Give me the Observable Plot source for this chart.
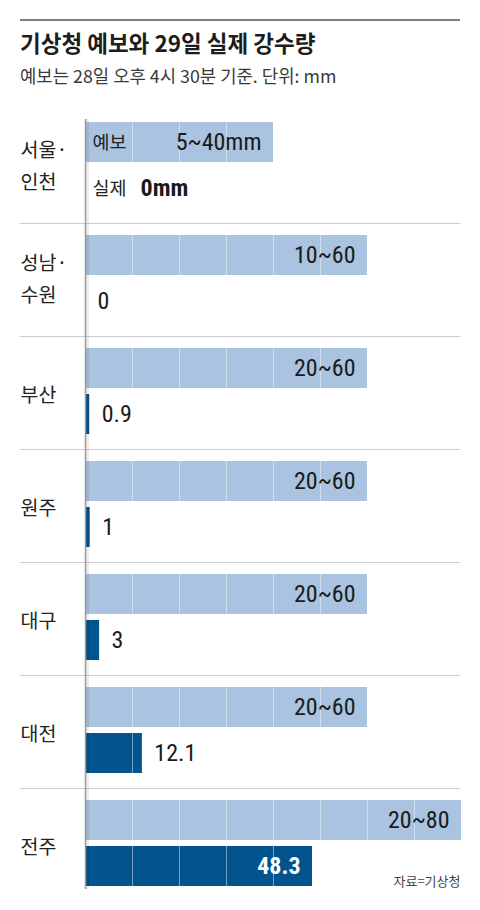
<!DOCTYPE html>
<html><head><meta charset="utf-8">
<script src="https://cdn.jsdelivr.net/npm/d3@7"></script>
<script src="https://cdn.jsdelivr.net/npm/@observablehq/plot@0.6"></script>
<style>
body{margin:0;background:#fff;width:480px;height:910px;position:relative;overflow:hidden;font-family:"Noto Sans CJK KR",sans-serif;}
#rule{position:absolute;left:20px;top:19px;width:440px;height:2px;background:#808080;}
#title{position:absolute;left:20px;top:29px;font-size:22.5px;font-weight:700;line-height:26px;color:#1d1d1d;white-space:nowrap}
#subtitle{position:absolute;left:20px;top:65px;font-size:17.8px;line-height:20px;color:#3a3a3a;white-space:nowrap}
#chart{position:absolute;left:0;top:100px;}
</style></head>
<body>
<div id="rule"></div>
<div id="title"></div>
<div id="subtitle"></div>
<div id="chart"></div>
<script>
const title = "기상청 예보와 29일 실제 강수량";
const subtitle = "예보는 28일 오후 4시 30분 기준. 단위: mm";
const source = "자료=기상청";
const cities = ["서울·인천","성남·수원","부산","원주","대구","대전","전주"];
const cityLabels = ["서울·\n인천","성남·\n수원","부산","원주","대구","대전","전주"];
const forecastLow = [5,10,20,20,20,20,20];
const forecastHigh = [40,60,60,60,60,60,80];
const actual = [0,0,0.9,1,3,12.1,48.3];
const gridTicks = [10,20,30,40,50,60,70];
const seriesNames = ["예보","실제"];
const unit = "mm";

document.getElementById("title").textContent = title;
document.getElementById("subtitle").textContent = subtitle;

const rows = cities.map((c,i)=>({
  city:c, label:cityLabels[i], low:forecastLow[i], high:forecastHigh[i], actual:actual[i],
  fText: `${forecastLow[i]}~${forecastHigh[i]}` + (i===0 ? unit : ""),
  aText: String(actual[i]) + (i===0 ? unit : "")
}));
const grid = cities.flatMap(c => gridTicks.map(t => ({city:c, tick:t})));
const legendRow = [{city:cities[0], f:seriesNames[0], a:seriesNames[1]}];

const NUM = "'Liberation Sans Narrow','Roboto Condensed','Arial Narrow',Roboto,sans-serif";
const KR = "'Noto Sans CJK KR',sans-serif";
const maxVal = d3.max(forecastHigh);
const insideThreshold = 40;

const chart = Plot.plot({
  width:480, height:810,
  marginTop:19, marginBottom:21, marginLeft:20, marginRight:20,
  x:{domain:[0,maxVal], range:[85,461], axis:null},
  y:{domain:cities, paddingInner:0.2357, paddingOuter:0, axis:null},
  style:{fontFamily:KR, background:"#fff"},
  marks:[
    Plot.barX(rows, {x:"high", y:"city", fill:"#a9c3e0", insetBottom:46}),
    Plot.barX(rows, {x:"actual", y:"city", fill:"#02548f", insetTop:46}),
    Plot.tickX(grid, {x:"tick", y:"city", stroke:"#fff", strokeOpacity:0.45}),
    Plot.ruleY(rows.slice(0,-1), {y:"city", dy:58, stroke:"#cccccc", strokeWidth:1}),
    Plot.ruleX([0], {stroke:"#000", strokeOpacity:0.07, strokeWidth:3, dx:2}),
    Plot.ruleX([0], {stroke:"#9a9a9a", strokeWidth:1.5}),
    // city labels
    Plot.text(rows.filter(d=>d.label.includes("\n")), {text:"label", y:"city", frameAnchor:"left", textAnchor:"start", fontSize:19.5, lineHeight:1.66, fill:"#222", dy:-3}),
    Plot.text(rows.filter(d=>!d.label.includes("\n")), {text:"label", y:"city", frameAnchor:"left", textAnchor:"start", fontSize:19.5, fill:"#222", dy:4}),
    // legend words in first row
    Plot.text(legendRow, {x:()=>0, y:"city", text:"f", textAnchor:"start", dx:7, dy:-22, fontSize:18.5, fill:"#222"}),
    Plot.text(legendRow, {x:()=>0, y:"city", text:"a", textAnchor:"start", dx:7, dy:24, fontSize:18.5, fill:"#222"}),
    // forecast labels
    Plot.text(rows, {x:"high", y:"city", text:"fText", textAnchor:"end", dx:-12, dy:-23, fontSize:24, fontFamily:NUM, fill:"#1a1a1a"}),
    // actual labels
    Plot.text(rows.filter((d,i)=>i>0 && d.actual<=insideThreshold), {x:"actual", y:"city", text:"aText", textAnchor:"start", dx:12, dy:23, fontSize:24, fontFamily:NUM, fill:"#1a1a1a"}),
    Plot.text(rows.filter(d=>d.actual>insideThreshold), {x:"actual", y:"city", text:"aText", textAnchor:"end", dx:-12, dy:23, fontSize:24, fontFamily:NUM, fill:"#fff", fontWeight:"bold"}),
    Plot.text(rows.slice(0,1), {x:"actual", y:"city", text:"aText", textAnchor:"start", dx:55, dy:23, fontSize:24, fontFamily:NUM, fill:"#1a1a1a", fontWeight:"bold"}),
    // source
    Plot.text([source], {frameAnchor:"bottom-right", textAnchor:"end", lineAnchor:"bottom", fontSize:13, fill:"#444", dy:-4})
  ]
});
document.getElementById("chart").append(chart);
</script>
</body></html>
